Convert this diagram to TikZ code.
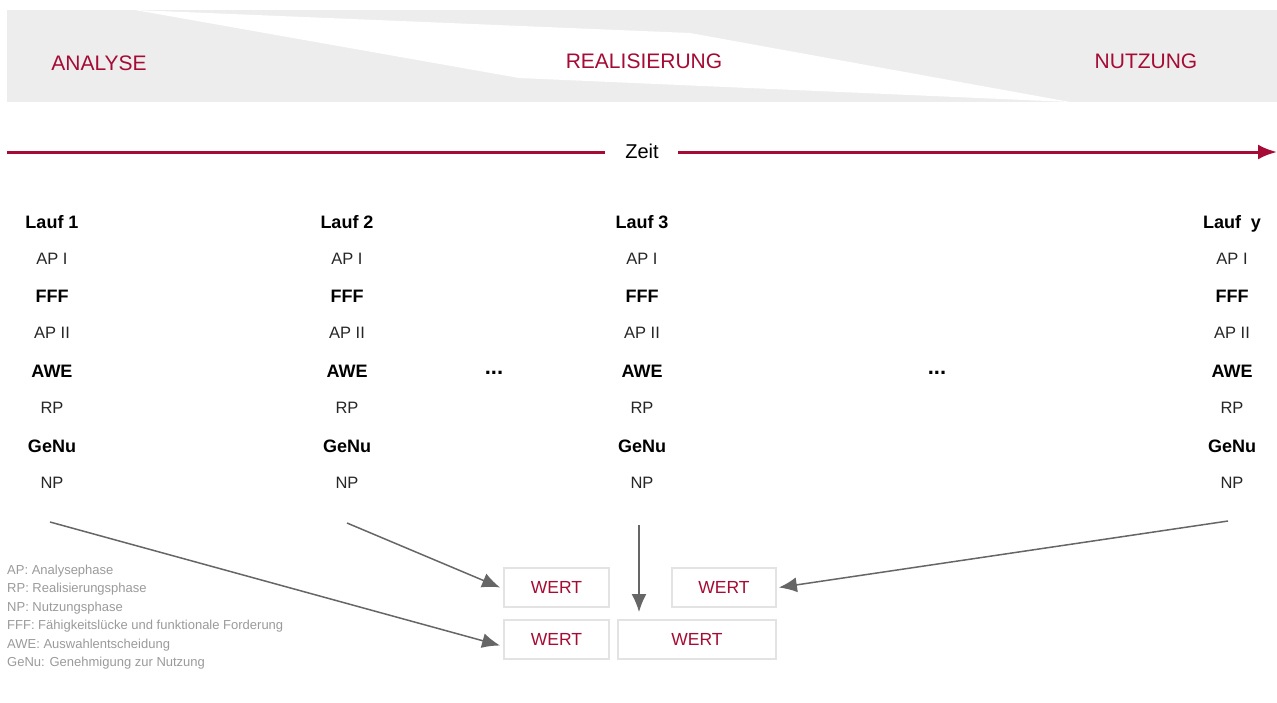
\documentclass[tikz,border=0pt]{standalone}
\usepackage{fontspec}
\setmainfont{Liberation Sans}
\usetikzlibrary{arrows.meta}
\definecolor{band}{HTML}{EDEDED}
\definecolor{crim}{HTML}{A50B34}
\definecolor{arr}{HTML}{666666}
\definecolor{legend}{HTML}{9A9A9A}
\definecolor{boxline}{HTML}{E3E3E3}
\tikzset{
  phase/.style={text=crim, font=\fontsize{21}{24}\selectfont, inner sep=0pt},
  bold/.style={font=\fontsize{18}{21}\selectfont\bfseries, inner sep=0pt, text height=13pt, text depth=0pt},
  reg/.style={font=\fontsize{16.5}{20}\selectfont, inner sep=0pt, text=black!85},
  wert/.style={draw=boxline, line width=1.8pt, text=crim, font=\fontsize{17.5}{20}\selectfont, inner sep=0pt},
  leg/.style={text=legend, font=\fontsize{13}{15}\selectfont, anchor=west, inner sep=0pt},
  conn/.style={draw=arr, line width=1.5pt, -{Latex[length=18pt,width=15pt]}},
}
\begin{document}
\begin{tikzpicture}[x=1pt,y=-1pt]
\useasboundingbox (0,0) rectangle (1277,702);
% band
\fill[band] (7,10) rectangle (1277,102);
\fill[white] (135,10) -- (690,33) -- (1070,102) -- (519,78) -- cycle;
\node[phase] (analyse) at (99,63) {ANALYSE};
\node[phase] (real) at (644,61) {REALISIERUNG};
\node[phase] (nutz) at (1146,61) {NUTZUNG};
% time arrow
\node[font=\fontsize{20}{23}\selectfont, inner sep=0pt] (zeit) at (642,151) {Zeit};
\coordinate (t0) at (7,152);
\coordinate (t1) at (605,152);
\coordinate (t2) at (678,152);
\coordinate (t3) at (1277,152);
\draw[crim, line width=3pt] (t0) -- (t1);
\draw[crim, line width=3pt, -{Latex[length=19pt,width=15pt]}] (t2) -- (t3);
% columns
\foreach \x/\n/\lab in {52/a/Lauf 1, 347/b/Lauf 2, 642/c/Lauf 3, 1232/d/Lauf\ \ y}{
  \node[bold] (\n1) at (\x,222) {\lab};
  \node[reg]  (\n2) at (\x,259) {AP I};
  \node[bold] (\n3) at (\x,296) {FFF};
  \node[reg]  (\n4) at (\x,333) {AP II};
  \node[bold] (\n5) at (\x,371) {AWE};
  \node[reg]  (\n6) at (\x,408) {RP};
  \node[bold] (\n7) at (\x,446) {GeNu};
  \node[reg]  (\n8) at (\x,483) {NP};
}
\node[font=\fontsize{22}{24}\selectfont\bfseries, inner sep=0pt] (dots1) at (494,373) {...};
\node[font=\fontsize{22}{24}\selectfont\bfseries, inner sep=0pt] (dots2) at (937,373) {...};
% WERT boxes
\node[wert, minimum width=105pt, minimum height=39pt] (w1) at (556.5,587.5) {WERT};
\node[wert, minimum width=104pt, minimum height=39pt] (w2) at (724,587.5) {WERT};
\node[wert, minimum width=105pt, minimum height=39pt] (w3) at (556.5,639.5) {WERT};
\node[wert, minimum width=158pt, minimum height=39pt] (w4) at (697,639.5) {WERT};
% connectors
\coordinate (s1) at (50,522);
\coordinate (s2) at (347,523);
\coordinate (s3) at (639,525);
\coordinate (s4) at (1228,521);
\coordinate (e3) at (639,612);
\draw[conn] (s1) -- ([xshift=-3pt,yshift=-6pt]w3.west);
\draw[conn] (s2) -- ([xshift=-3pt]w1.west);
\draw[conn] (s3) -- (e3);
\draw[conn] (s4) -- ([xshift=2pt]w2.east);
% legend
\node[leg] (l1) at (7,571) {AP: Analysephase};
\node[leg] (l2) at (7,589.5) {RP: Realisierungsphase};
\node[leg] (l3) at (7,608) {NP: Nutzungsphase};
\node[leg] (l4) at (7,626.5) {FFF: Fähigkeitslücke und funktionale Forderung};
\node[leg] (l5) at (7,645) {AWE: Auswahlentscheidung};
\node[leg] (l6) at (7,663.5) {GeNu: Genehmigung zur Nutzung};
\end{tikzpicture}
\end{document}
